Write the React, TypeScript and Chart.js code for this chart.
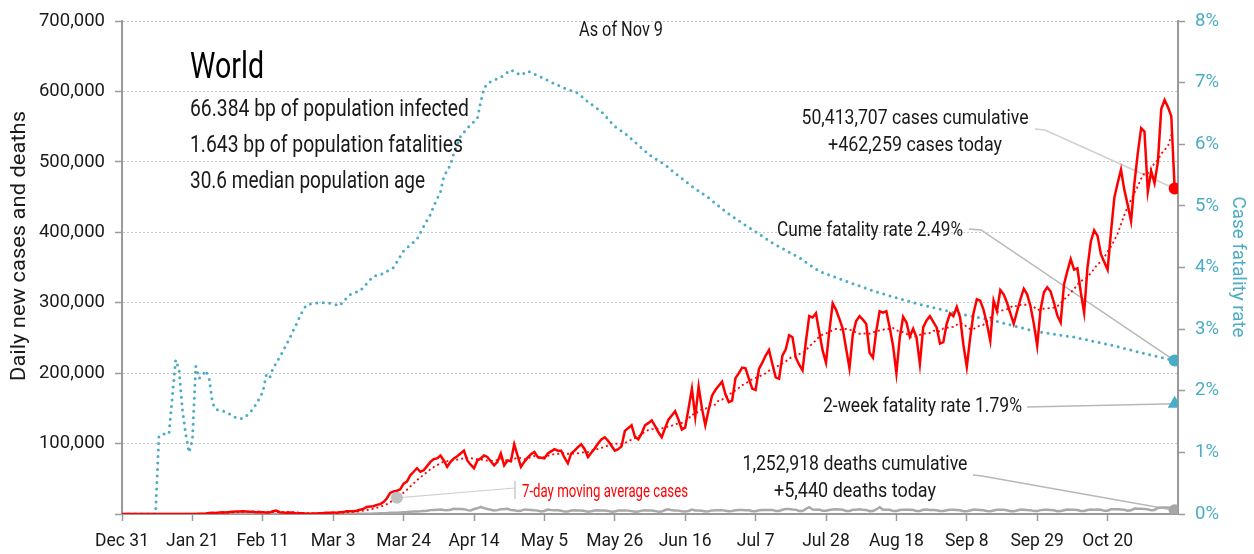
import React, { useEffect, useRef } from 'react';
import { Chart, registerables } from 'chart.js';

Chart.register(...registerables);

const FONT = 'Roboto, "Liberation Sans", Arial, sans-serif';
const BLUE = '#4bacc6';
const RED = '#ff0000';
const GREY = '#a9a9a9';
const TEXT = '#1a1a1a';

// x axis: days since Dec 31, 2019
const xTickDays = [0, 21, 42, 63, 84, 105, 126, 147, 168, 189, 210, 231, 252, 273, 294];
const xTickLabels = ['Dec 31', 'Jan 21', 'Feb 11', 'Mar 3', 'Mar 24', 'Apr 14', 'May 5', 'May 26', 'Jun 16', 'Jul 7', 'Jul 28', 'Aug 18', 'Sep 8', 'Sep 29', 'Oct 20'];
const xMaxDay = 315;
const lastDay = 314;

// daily new cases, one value per day from Dec 31 (rows of 7 days)
const cases = [
  0, 0, 0, 0, 0, 0, 0,
  0, 0, 0, 0, 0, 0, 0,
  0, 0, 0, 0, 0, 20, 80,
  150, 100, 300, 500, 700, 1300, 1800,
  1500, 2000, 2500, 2200, 2800, 3200, 3400,
  3700, 3900, 3700, 3200, 3100, 2600, 2800,
  2500, 2100, 2000, 4000, 5000, 2600, 2100,
  1900, 2000, 1800, 600, 1000, 900, 500,
  300, 700, 600, 1200, 1400, 1800, 1900,
  2300, 1800, 2600, 2700, 3900, 4000, 4000,
  4600, 6000, 7300, 10000, 10500, 11000, 13000,
  14000, 17000, 22000, 30000, 32000, 33000, 35000,
  43000, 46000, 55000, 60000, 65000, 60000, 62000,
  68000, 74000, 78000, 79000, 83000, 76000, 67000,
  74000, 79000, 82000, 86000, 90000, 76000, 70000,
  65000, 76000, 79000, 83000, 81000, 75000, 69000,
  74000, 86000, 69000, 76000, 75000, 99000, 83000,
  67000, 74000, 80000, 85000, 88000, 81000, 80000,
  79000, 86000, 89000, 92000, 90000, 90000, 80000,
  72000, 86000, 90000, 95000, 99000, 92000, 81000,
  87000, 93000, 100000, 106000, 109000, 104000, 97000,
  90000, 92000, 96000, 118000, 122000, 126000, 110000,
  106000, 114000, 126000, 129000, 133000, 125000, 116000,
  109000, 122000, 134000, 140000, 146000, 134000, 120000,
  123000, 150000, 178000, 138000, 181000, 150000, 126000,
  148000, 168000, 176000, 182000, 188000, 170000, 159000,
  161000, 193000, 200000, 208000, 207000, 192000, 178000,
  176000, 206000, 215000, 225000, 233000, 213000, 194000,
  192000, 225000, 234000, 254000, 251000, 222000, 212000,
  204000, 245000, 281000, 279000, 285000, 258000, 232000,
  215000, 260000, 299000, 290000, 277000, 263000, 235000,
  207000, 255000, 274000, 281000, 276000, 270000, 229000,
  222000, 260000, 288000, 286000, 288000, 265000, 239000,
  200000, 250000, 280000, 272000, 252000, 263000, 251000,
  213000, 265000, 275000, 281000, 273000, 265000, 242000,
  244000, 270000, 285000, 281000, 294000, 279000, 240000,
  209000, 250000, 285000, 305000, 303000, 290000, 270000,
  246000, 303000, 288000, 318000, 312000, 300000, 285000,
  270000, 288000, 305000, 320000, 312000, 295000, 270000,
  239000, 290000, 315000, 322000, 316000, 300000, 282000,
  272000, 326000, 345000, 362000, 347000, 349000, 315000,
  286000, 350000, 387000, 403000, 395000, 369000, 358000,
  347000, 400000, 449000, 470000, 489000, 460000, 439000,
  416000, 470000, 512000, 548000, 543000, 458000, 487000,
  470000, 500000, 575000, 588000, 578000, 565000, 462259,
];

// daily new deaths, one value per day from Dec 31 (rows of 7 days)
const deaths = [
  0, 0, 0, 0, 0, 0, 0,
  0, 0, 0, 0, 1, 0, 0,
  0, 0, 0, 0, 0, 1, 0,
  3, 11, 0, 9, 15, 15, 24,
  26, 26, 38, 43, 46, 45, 57,
  64, 66, 73, 73, 86, 89, 97,
  108, 97, 254, 143, 142, 106, 98,
  139, 115, 118, 109, 97, 150, 71,
  52, 29, 44, 47, 35, 42, 60,
  68, 81, 71, 114, 99, 100, 246,
  240, 330, 350, 460, 500, 660, 750,
  980, 1100, 1300, 1650, 1700, 1800, 2200,
  2400, 2700, 3200, 3400, 3500, 3800, 4300,
  4700, 5500, 5800, 6200, 6500, 5700, 5200,
  6100, 7500, 7200, 7100, 6900, 5500, 5000,
  7100, 8100, 10000, 8300, 7000, 6100, 4900,
  5500, 6900, 7000, 7300, 5800, 5200, 4400,
  4500, 6500, 6200, 5800, 5200, 4800, 3600,
  4300, 6400, 5800, 5400, 5400, 4500, 3400,
  3700, 5000, 5300, 5100, 5000, 4200, 3300,
  3800, 5000, 5200, 5100, 4800, 4400, 3200,
  3400, 5000, 5000, 5100, 4800, 4100, 3300,
  3400, 4800, 5200, 5100, 4900, 4400, 3300,
  3500, 5600, 6700, 5200, 5000, 4800, 3800,
  3700, 4300, 6300, 5100, 5000, 4600, 3600,
  3800, 5100, 5200, 5500, 5500, 4700, 3900,
  4200, 5400, 5800, 5700, 5500, 5300, 3900,
  4000, 5400, 5600, 5600, 5700, 5800, 4200,
  4300, 6000, 7000, 7200, 6500, 6200, 4200,
  4300, 7200, 9800, 6400, 6200, 6300, 4500,
  4700, 5700, 6500, 6800, 6400, 6000, 4400,
  4200, 6000, 6200, 6600, 6100, 5800, 4100,
  4400, 6400, 9500, 6200, 6200, 5900, 4400,
  4300, 5600, 6200, 6200, 5900, 5600, 4200,
  4200, 5900, 6300, 5800, 5600, 5400, 4200,
  4300, 5300, 5900, 6000, 5800, 5300, 4000,
  3800, 5000, 6300, 6000, 5700, 5300, 4300,
  4000, 5100, 6100, 6000, 5900, 5400, 4000,
  4000, 5000, 6400, 6200, 5700, 5500, 4100,
  4100, 5500, 6100, 6000, 5800, 5300, 3900,
  4100, 5400, 6300, 6100, 5900, 5600, 4200,
  4300, 5700, 6500, 6100, 6300, 6100, 4500,
  4700, 6700, 6900, 6600, 6300, 5900, 4500,
  5200, 7700, 7400, 7300, 7000, 6700, 5200,
  5800, 8500, 9200, 9200, 9400, 8500, 5440,
];

// cumulative case fatality rate (%), read at these days
const cfrDays = [
  0, 10, 11, 12, 14, 15, 16, 17, 18, 19,
  20, 21, 22, 23, 24, 25, 26, 27, 28, 31,
  34, 36, 38, 40, 42, 43, 44, 45, 46, 48,
  49, 50, 51, 52, 53, 54, 55, 57, 61, 63,
  65, 66, 68, 69, 71, 72, 74, 75, 77, 81,
  84, 88, 90, 92, 93, 95, 96, 98, 99, 101,
  103, 106, 107, 108, 109, 113, 116, 119, 121, 125,
  128, 132, 136, 139, 143, 147, 150, 155, 158, 162,
  165, 170, 175, 180, 185, 189, 194, 202, 208, 216,
  224, 236, 248, 260, 272, 284, 296, 306, 314,
];
const cfrRates = [
  0, 0, 1.25, 1.3, 1.3, 1.9, 2.5, 2.35, 1.7, 1.3,
  1.0, 1.2, 2.4, 2.2, 2.25, 2.33, 2.2, 1.8, 1.7, 1.66,
  1.56, 1.55, 1.63, 1.78, 1.98, 2.25, 2.2, 2.36, 2.45, 2.64,
  2.75, 2.85, 2.97, 3.08, 3.2, 3.31, 3.39, 3.42, 3.43, 3.41,
  3.38, 3.45, 3.56, 3.59, 3.62, 3.68, 3.8, 3.86, 3.88, 4.0,
  4.27, 4.46, 4.67, 4.86, 5.0, 5.23, 5.48, 5.67, 5.86, 6.13,
  6.26, 6.42, 6.69, 6.91, 6.99, 7.09, 7.21, 7.12, 7.19, 7.09,
  7.01, 6.91, 6.83, 6.69, 6.53, 6.29, 6.18, 5.94, 5.8, 5.67,
  5.53, 5.32, 5.13, 4.91, 4.72, 4.58, 4.4, 4.16, 3.94, 3.78,
  3.62, 3.43, 3.27, 3.14, 2.97, 2.87, 2.73, 2.59, 2.49,
];

const cumeFatalityRate = 2.49;
const twoWeekFatalityRate = 1.79;
const maMarkerDay = 82;

const headerTitle = 'World';
const headerLines = ['66.384 bp of population infected', '1.643 bp of population fatalities', '30.6 median population age'];
const asOfText = 'As of Nov 9';
const casesNote = ['50,413,707 cases cumulative', '+462,259 cases today'];
const deathsNote = ['1,252,918 deaths cumulative', '+5,440 deaths today'];
const cumeNote = 'Cume fatality rate 2.49%';
const twoWeekNote = '2-week fatality rate 1.79%';
const maNote = '7-day moving average cases';
const leftTitle = 'Daily new cases and deaths';
const rightTitle = 'Case fatality rate';

// trailing 7-day average of the daily cases
const casesMA = cases.map((_, i) => {
  const from = Math.max(0, i - 6);
  const win = cases.slice(from, i + 1);
  return win.reduce((a, b) => a + b, 0) / win.length;
});

// text drawn at a given size, squeezed horizontally to a given width
function drawFit(ctx: CanvasRenderingContext2D, str: string, x: number, y: number, size: number, color: string, align: CanvasTextAlign, width: number) {
  ctx.save();
  ctx.font = `${size}px ${FONT}`;
  ctx.fillStyle = color;
  ctx.textAlign = align;
  ctx.textBaseline = 'middle';
  const m = ctx.measureText(str).width;
  const sx = m > 0 ? width / m : 1;
  ctx.translate(x, y);
  ctx.scale(sx, 1);
  ctx.fillText(str, 0, 0);
  ctx.restore();
}

function drawPath(ctx: CanvasRenderingContext2D, pts: number[][], color: string, w: number) {
  ctx.save();
  ctx.strokeStyle = color;
  ctx.lineWidth = w;
  ctx.beginPath();
  pts.forEach((p, i) => (i === 0 ? ctx.moveTo(p[0], p[1]) : ctx.lineTo(p[0], p[1])));
  ctx.stroke();
  ctx.restore();
}

const annotationPlugin = {
  id: 'annotations',
  beforeDatasetsDraw(chart: any) {
    const ctx = chart.ctx as CanvasRenderingContext2D;
    const xs = chart.scales.x;
    const ys = chart.scales.y;
    const yr = chart.scales.y1;
    const ex = xs.getPixelForValue(lastDay);
    drawPath(ctx, [[1035, 129], [1045, 130], [ex, ys.getPixelForValue(cases[lastDay])]], '#d0d0d0', 1.5);
    drawPath(ctx, [[969, 229], [981, 230], [ex, yr.getPixelForValue(cumeFatalityRate)]], '#b8b8b8', 1.5);
    drawPath(ctx, [[1027, 407], [ex, yr.getPixelForValue(twoWeekFatalityRate)]], '#b8b8b8', 1.5);
    drawPath(ctx, [[973, 475], [982, 476], [ex, ys.getPixelForValue(deaths[lastDay])]], '#b8b8b8', 1.5);
    drawPath(ctx, [[xs.getPixelForValue(maMarkerDay), ys.getPixelForValue(casesMA[maMarkerDay])], [515, 488]], '#d0d0d0', 1.2);
    drawPath(ctx, [[515, 481], [515, 499]], '#bdbdbd', 1.2);
  },
  afterDraw(chart: any) {
    const ctx = chart.ctx as CanvasRenderingContext2D;
    drawFit(ctx, asOfText, 621, 31, 20, TEXT, 'center', 84);
    drawFit(ctx, headerTitle, 190, 69, 37, '#000', 'left', 74);
    drawFit(ctx, headerLines[0], 190, 110, 24, TEXT, 'left', 279);
    drawFit(ctx, headerLines[1], 190, 146, 24, TEXT, 'left', 273);
    drawFit(ctx, headerLines[2], 190, 182, 24, TEXT, 'left', 235);
    drawFit(ctx, casesNote[0], 915, 119, 21, TEXT, 'center', 227);
    drawFit(ctx, casesNote[1], 915, 146, 21, TEXT, 'center', 174);
    drawFit(ctx, cumeNote, 963, 231, 21, TEXT, 'right', 186);
    drawFit(ctx, twoWeekNote, 1022, 407, 21, TEXT, 'right', 199);
    drawFit(ctx, deathsNote[0], 855, 465, 21, TEXT, 'center', 225);
    drawFit(ctx, deathsNote[1], 855, 492, 21, TEXT, 'center', 162);
    drawFit(ctx, maNote, 522, 492, 18, RED, 'left', 166);
    // axis titles
    ctx.save();
    ctx.translate(20, 246);
    ctx.rotate(-Math.PI / 2);
    drawFit(ctx, leftTitle, 0, 0, 20, TEXT, 'center', 270);
    ctx.restore();
    ctx.save();
    ctx.translate(1238, 267);
    ctx.rotate(Math.PI / 2);
    drawFit(ctx, rightTitle, 0, 0, 18.5, BLUE, 'center', 141);
    ctx.restore();
  },
};

export default function App() {
  const ref = useRef<HTMLCanvasElement | null>(null);
  useEffect(() => {
    if (!ref.current) return;
    const chart = new Chart(ref.current, {
      type: 'line',
      data: {
        datasets: [
          {
            label: 'last case',
            data: [{ x: lastDay, y: cases[lastDay] }],
            showLine: false,
            pointRadius: 6,
            pointBackgroundColor: RED,
            pointBorderWidth: 0,
            yAxisID: 'y',
          },
          {
            label: 'last cfr',
            data: [{ x: lastDay, y: cumeFatalityRate }],
            showLine: false,
            pointRadius: 6,
            pointBackgroundColor: BLUE,
            pointBorderWidth: 0,
            yAxisID: 'y1',
          },
          {
            label: 'two week',
            data: [{ x: lastDay, y: twoWeekFatalityRate }],
            showLine: false,
            pointStyle: 'triangle',
            pointRadius: 8,
            pointBackgroundColor: BLUE,
            pointBorderWidth: 0,
            yAxisID: 'y1',
          },
          {
            label: 'last death',
            data: [{ x: lastDay, y: deaths[lastDay] }],
            showLine: false,
            pointRadius: 6,
            pointBackgroundColor: '#a6a6a6',
            pointBorderWidth: 0,
            yAxisID: 'y',
          },
          {
            label: 'ma marker',
            data: [{ x: maMarkerDay, y: casesMA[maMarkerDay] }],
            showLine: false,
            pointRadius: 6,
            pointBackgroundColor: '#c0c0c0',
            pointBorderWidth: 0,
            yAxisID: 'y',
          },
          {
            label: 'Daily cases',
            data: cases.map((v, i) => ({ x: i, y: v })),
            borderColor: RED,
            borderWidth: 2.5,
            pointRadius: 0,
            yAxisID: 'y',
          },
          {
            label: '7-day MA',
            data: casesMA.map((v, i) => ({ x: i, y: v })),
            borderColor: RED,
            borderWidth: 1.8,
            borderDash: [2, 3],
            pointRadius: 0,
            yAxisID: 'y',
          },
          {
            label: 'Daily deaths',
            data: deaths.map((v, i) => ({ x: i, y: v })),
            borderColor: GREY,
            borderWidth: 2.5,
            pointRadius: 0,
            yAxisID: 'y',
          },
          {
            label: 'CFR',
            data: cfrDays.map((d, i) => ({ x: d, y: cfrRates[i] })),
            borderColor: BLUE,
            borderWidth: 3,
            borderDash: [0, 6.5],
            borderCapStyle: 'round',
            pointRadius: 0,
            yAxisID: 'y1',
          },
        ],
      },
      options: {
        animation: false,
        responsive: true,
        maintainAspectRatio: false,
        layout: { padding: { top: 19, left: 0, right: 0, bottom: 0 } },
        plugins: { legend: { display: false }, tooltip: { enabled: false } },
        events: [],
        scales: {
          x: {
            type: 'linear',
            min: 0,
            max: xMaxDay,
            afterBuildTicks: (s: any) => {
              s.ticks = xTickDays.map((v) => ({ value: v }));
            },
            afterFit: (s: any) => {
              s.height = 40;
            },
            ticks: {
              autoSkip: false,
              maxRotation: 0,
              callback: (v: any) => {
                const i = xTickDays.indexOf(Number(v));
                return i >= 0 ? xTickLabels[i] : '';
              },
              font: { family: FONT, size: 17.5 },
              color: TEXT,
              padding: 10,
            },
            grid: { drawOnChartArea: false, drawTicks: true, tickLength: 7, tickColor: '#9a9a9a', tickWidth: 1.5 },
            border: { color: '#9a9a9a', width: 2 },
          },
          y: {
            position: 'left',
            min: 0,
            max: 700000,
            afterFit: (s: any) => {
              s.width = 122;
            },
            ticks: {
              stepSize: 100000,
              callback: (v: any) => (Number(v) === 0 ? '' : Number(v).toLocaleString('en-US')),
              font: { family: FONT, size: 18.5 },
              color: TEXT,
              padding: 10,
            },
            grid: { color: '#c8c8c8', lineWidth: 1, tickLength: 7, tickColor: '#9a9a9a', tickWidth: 1.5, tickBorderDash: [] },
            border: { color: '#9a9a9a', width: 2, dash: [2, 2] },
          },
          y1: {
            position: 'right',
            min: 0,
            max: 8,
            afterFit: (s: any) => {
              s.width = 76;
            },
            ticks: {
              stepSize: 1,
              callback: (v: any) => `${v}%`,
              font: { family: FONT, size: 18.5 },
              color: BLUE,
              padding: 10,
            },
            grid: { drawOnChartArea: false, tickLength: 7, tickColor: '#9a9a9a', tickWidth: 1.5 },
            border: { color: '#9a9a9a', width: 2 },
          },
        },
      } as any,
      plugins: [annotationPlugin],
    });
    return () => chart.destroy();
  }, []);
  return (
    <div style={{ position: 'absolute', left: 0, top: 0, width: 1254, height: 554, background: '#fff' }}>
      <canvas ref={ref} />
    </div>
  );
}
